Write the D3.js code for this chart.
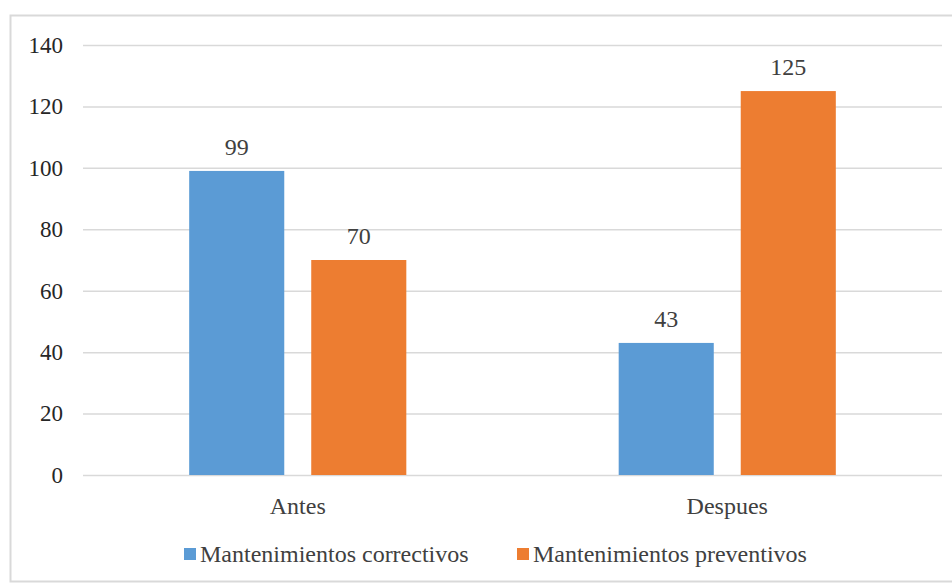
<!DOCTYPE html>
<html>
<head>
<meta charset="utf-8">
<script src="https://cdn.jsdelivr.net/npm/d3@7"></script>
<style>
  html, body { margin: 0; padding: 0; background: #fff; }
  svg { display: block; }
  svg text { font-family: "Liberation Serif", "Times New Roman", Times, "Nimbus Roman", Tinos, "DejaVu Serif", serif !important; }
</style>
</head>
<body>
<div id="chart"></div>
<script>
const categories = ["Antes", "Despues"];
const seriesNames = ["Mantenimientos correctivos", "Mantenimientos preventivos"];
const correctivos = [99, 43];
const preventivos = [70, 125];
const yTicks = [0, 20, 40, 60, 80, 100, 120, 140];
const colors = ["#5B9BD5", "#ED7D31"];

const W = 952, H = 584;
const svg = d3.select("#chart").append("svg").attr("width", W).attr("height", H);

// outer frame
svg.append("rect")
  .attr("x", 10.5).attr("y", 15.5)
  .attr("width", W + 20).attr("height", 566)
  .attr("fill", "#fff").attr("stroke", "#D9D9D9").attr("stroke-width", 2);

const plot = { left: 83, right: 942, top: 45, bottom: 475 };

const y = d3.scaleLinear().domain([0, 140]).range([plot.bottom, plot.top]);
const x0 = d3.scaleBand().domain(categories).range([plot.left, plot.right]);
const x1 = d3.scaleBand().domain(seriesNames).range([0, x0.bandwidth()])
  .paddingInner(0.221).paddingOuter(0.87);

// gridlines
const yAxis = d3.axisLeft(y).tickValues(yTicks).tickSize(-(plot.right - plot.left)).tickPadding(20);
const gy = svg.append("g").attr("transform", `translate(${plot.left},0)`).call(yAxis);
gy.attr("font-family", null);
gy.select(".domain").remove();
gy.selectAll(".tick line").attr("stroke", "#D9D9D9").attr("stroke-width", 1.5);
gy.selectAll(".tick text")
  .attr("fill", "#262626")
  .style("font-size", "23px");

// bars
const data = categories.map((c, i) => ({ cat: c, vals: [correctivos[i], preventivos[i]] }));
const groups = svg.append("g").selectAll("g").data(data).join("g")
  .attr("transform", d => `translate(${x0(d.cat)},0)`);

groups.selectAll("rect").data(d => d.vals.map((v, j) => ({ name: seriesNames[j], v, j })))
  .join("rect")
  .attr("x", d => x1(d.name))
  .attr("y", d => y(d.v))
  .attr("width", x1.bandwidth())
  .attr("height", d => y(0) - y(d.v))
  .attr("fill", d => colors[d.j]);

groups.selectAll("text.val").data(d => d.vals.map((v, j) => ({ name: seriesNames[j], v, j })))
  .join("text")
  .attr("class", "val")
  .attr("x", d => x1(d.name) + x1.bandwidth() / 2)
  .attr("y", d => y(d.v) - 16)
  .attr("text-anchor", "middle")
  .attr("fill", "#404040")
  .style("font-size", "24px")
  .text(d => d.v);

// category axis labels
const xAxis = d3.axisBottom(x0).tickSize(0).tickPadding(22);
const gx = svg.append("g").attr("transform", `translate(0,${plot.bottom})`).call(xAxis);
gx.attr("font-family", null);
gx.select(".domain").remove();
gx.selectAll(".tick text")
  .attr("fill", "#404040")
  .style("font-size", "24px");

// legend
const legendX = [184, 517];
const lg = svg.append("g").selectAll("g").data(seriesNames).join("g")
  .attr("transform", (d, i) => `translate(${legendX[i]},548)`);
lg.append("rect").attr("width", 12).attr("height", 12).attr("fill", (d, i) => colors[i]);
lg.append("text").attr("x", 16).attr("y", 14)
  .attr("fill", "#404040").style("font-size", "24px").text(d => d);
</script>
</body>
</html>
